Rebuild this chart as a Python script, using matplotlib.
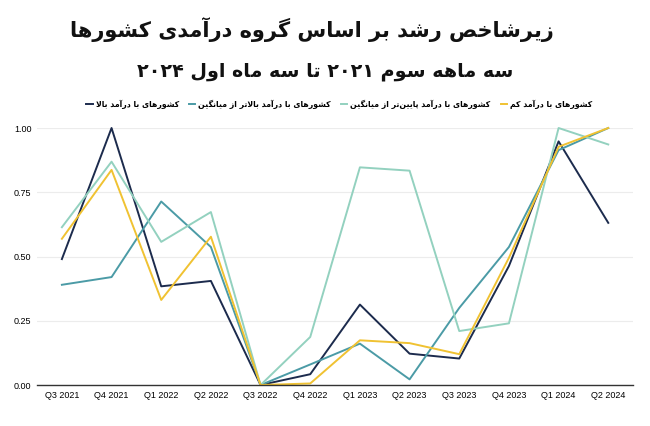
import re

import matplotlib as mpl
mpl.use('Agg')
import matplotlib.pyplot as plt

quarters = ['Q3 2021', 'Q4 2021', 'Q1 2022', 'Q2 2022', 'Q3 2022', 'Q4 2022',
            'Q1 2023', 'Q2 2023', 'Q3 2023', 'Q4 2023', 'Q1 2024', 'Q2 2024']

high = [0.49, 1.00, 0.384, 0.405, 0.0, 0.042, 0.313, 0.122, 0.103, 0.463, 0.948, 0.631]
upper_mid = [0.39, 0.42, 0.714, 0.537, 0.0, 0.08, 0.161, 0.022, 0.30, 0.537, 0.914, 1.00]
lower_mid = [0.614, 0.869, 0.557, 0.673, 0.0, 0.187, 0.847, 0.834, 0.21, 0.24, 1.00, 0.936]
low = [0.569, 0.837, 0.331, 0.577, 0.0, 0.006, 0.174, 0.163, 0.12, 0.495, 0.927, 1.00]

labels = ['کشورهای با درآمد بالا',
          'کشورهای با درآمد بالاتر از میانگین',
          'کشورهای با درآمد پایین\u200cتر از میانگین',
          'کشورهای با درآمد کم']
colors = ['#1c2b4d', '#4b9ba6', '#93d1bf', '#f0c232']

title = 'زیرشاخص رشد بر اساس گروه درآمدی کشورها'
subtitle = 'سه ماهه سوم ۲۰۲۱ تا سه ماه اول ۲۰۲۴'

# matplotlib has no arabic shaping, so pick presentation forms by hand
# (isolated, final, initial, medial)
FORMS = {
    'ا': '\ufe8d\ufe8e', 'آ': '\ufe81\ufe82',
    'ب': '\ufe8f\ufe90\ufe91\ufe92', 'پ': '\ufb56\ufb57\ufb58\ufb59',
    'ت': '\ufe95\ufe96\ufe97\ufe98', 'خ': '\ufea5\ufea6\ufea7\ufea8',
    'د': '\ufea9\ufeaa', 'ر': '\ufead\ufeae', 'ز': '\ufeaf\ufeb0',
    'س': '\ufeb1\ufeb2\ufeb3\ufeb4', 'ش': '\ufeb5\ufeb6\ufeb7\ufeb8',
    'ص': '\ufeb9\ufeba\ufebb\ufebc', 'ک': '\ufb8e\ufb8f\ufb90\ufb91',
    'گ': '\ufb92\ufb93\ufb94\ufb95', 'ل': '\ufedd\ufede\ufedf\ufee0',
    'م': '\ufee1\ufee2\ufee3\ufee4', 'ن': '\ufee5\ufee6\ufee7\ufee8',
    'ه': '\ufee9\ufeea\ufeeb\ufeec', 'و': '\ufeed\ufeee',
    'ی': '\ufbfc\ufbfd\ufbfe\ufbff',
}


def fa(text):
    out = []
    i = 0
    n = len(text)
    while i < n:
        c = text[i]
        prev = text[i - 1] if i > 0 else ''
        joins_prev = prev in FORMS and len(FORMS[prev]) == 4
        if c == 'ل' and i + 1 < n and text[i + 1] == 'ا':
            out.append('\ufefc' if joins_prev else '\ufefb')
            i += 2
            continue
        if c in FORMS:
            f = FORMS[c]
            nxt = text[i + 1] if i + 1 < n else ''
            joins_next = len(f) == 4 and nxt in FORMS
            if joins_prev and joins_next:
                out.append(f[3])
            elif joins_prev:
                out.append(f[1])
            elif joins_next:
                out.append(f[2])
            else:
                out.append(f[0])
        elif c != '\u200c':
            out.append(c)
        i += 1
    s = ''.join(out)[::-1]
    # numbers stay left to right
    return re.sub(r'[0-9\u06f0-\u06f9]+', lambda m: m.group(0)[::-1], s)


fig = plt.figure(figsize=(6.5, 4.26), dpi=100)
ax = fig.add_axes([0.057, 0.0962, 0.917, 0.6033])

x = list(range(len(quarters)))
for series, lab, col in zip([high, upper_mid, lower_mid, low], labels, colors):
    ax.plot(x, series, color=col, linewidth=1.4, label=fa(lab), clip_on=False)

ax.set_xlim(-0.5, len(quarters) - 0.5)
ax.set_ylim(0, 1.0)
ax.set_xticks(x)
ax.set_xticklabels(quarters, fontsize=6.5, family=['Liberation Sans', 'DejaVu Sans'])
ax.set_yticks([0, 0.25, 0.5, 0.75, 1.0])
ax.set_yticklabels(['0.00', '0.25', '0.50', '0.75', '1.00'], fontsize=6.5,
                   family=['Liberation Sans', 'DejaVu Sans'])
ax.tick_params(length=0, pad=4)
ax.grid(axis='y', color='#ececec', linewidth=0.8)
ax.set_axisbelow(True)
for side in ['left', 'right', 'top']:
    ax.spines[side].set_visible(False)
ax.spines['bottom'].set_color('#333333')
ax.spines['bottom'].set_linewidth(1.0)

fig.text(0.48, 0.93, fa(title), ha='center', va='center', fontsize=15,
         fontweight='bold', family='DejaVu Sans', color='#111111')
fig.text(0.5, 0.831, fa(subtitle), ha='center', va='center', fontsize=13.8,
         fontweight='bold', family='DejaVu Sans', color='#111111')

fig.legend(loc='center', bbox_to_anchor=(0.522, 0.756), ncol=4, frameon=False,
           prop={'family': 'DejaVu Sans', 'size': 5.6, 'weight': 'bold'},
           handlelength=0.8, handletextpad=0.4, columnspacing=1.3)

fig.savefig('out.png', dpi=100)
